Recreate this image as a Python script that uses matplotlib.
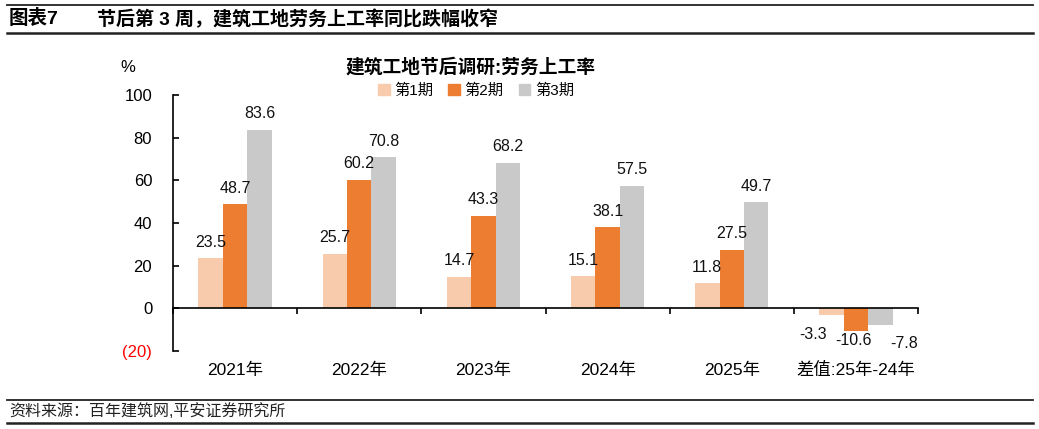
import matplotlib
matplotlib.use("Agg")
import matplotlib.pyplot as plt
import numpy as np
from matplotlib.lines import Line2D
from matplotlib.patches import Rectangle

plt.rcParams['font.family'] = ['Liberation Sans', 'Noto Sans CJK SC', 'DejaVu Sans']

# ===== Данные =====
categories = ["2021年", "2022年", "2023年", "2024年", "2025年", "差值:25年-24年"]
period1 = [23.5, 25.7, 14.7, 15.1, 11.8, -3.3]
period2 = [48.7, 60.2, 43.3, 38.1, 27.5, -10.6]
period3 = [83.6, 70.8, 68.2, 57.5, 49.7, -7.8]
series_names = ["第1期", "第2期", "第3期"]
yticks = [-20, 0, 20, 40, 60, 80, 100]
ytick_labels = ["(20)", "0", "20", "40", "60", "80", "100"]

colors = ["#F8CBAD", "#ED7D31", "#C9C9C9"]

fig = plt.figure(figsize=(10.39, 4.29), dpi=100)
ax = fig.add_axes([173 / 1039, 1 - 351 / 429, 745 / 1039, 256 / 429])

x = np.arange(len(categories))
w = 0.197
series = [period1, period2, period3]
for k, vals in enumerate(series):
    pos = x + (k - 1) * w
    ax.bar(pos, vals, width=w, color=colors[k], zorder=2)

# подписи значений
neg_offsets = [(-18, -19), (-2, -10), (24, -19)]
for k, vals in enumerate(series):
    pos = x + (k - 1) * w
    for i, v in enumerate(vals):
        if v >= 0:
            ax.annotate(f"{v:.1f}", (pos[i], v), xytext=(0, 16), textcoords="offset pixels",
                        ha="center", va="center", fontsize=11.5, color="#111111")
        else:
            dx, dy = neg_offsets[k]
            ax.annotate(f"{v:.1f}", (pos[i], v), xytext=(dx, dy), textcoords="offset pixels",
                        ha="center", va="center", fontsize=11.5, color="#111111")

ax.set_xlim(-0.5, len(categories) - 0.5)
ax.set_ylim(-20, 100)

# оси
for s in ["top", "right"]:
    ax.spines[s].set_visible(False)
ax.spines["bottom"].set_position(("data", 0))
ax.spines["left"].set_linewidth(1.2)
ax.spines["bottom"].set_linewidth(1.2)

ax.set_yticks(yticks)
ax.set_yticklabels(ytick_labels, fontsize=12)
ax.get_yticklabels()[0].set_color("red")
ax.tick_params(axis="y", direction="in", length=4, width=1.2, pad=15)

ax.set_xticks(np.arange(len(categories) + 1) - 0.5)
ax.set_xticklabels([])
ax.tick_params(axis="x", direction="out", length=4, width=1.2)
for i, c in enumerate(categories):
    ax.text(i, -29, c, ha="center", va="center", fontsize=12.5, clip_on=False)

ax.text(128 / 1039, 1 - 67 / 429, "%", transform=fig.transFigure, ha="center", va="center", fontsize=12)

# заголовок графика
fig.text(471 / 1039, 1 - 67 / 429, "建筑工地节后调研:劳务上工率", ha="center", va="center",
         fontsize=13.5, fontweight="bold")

# легенда
handles = [Rectangle((0, 0), 1, 1, color=c) for c in colors]
fig.legend(handles, series_names, loc="center", bbox_to_anchor=(476 / 1039, 1 - 91 / 429),
           ncol=3, frameon=False, fontsize=11, handlelength=0.75, handleheight=0.75,
           handletextpad=0.3, columnspacing=1.0)

# шапка и подвал
for y, lw in [(5, 1.3), (33, 1.8), (400, 1.3), (423, 1.8)]:
    fig.add_artist(Line2D([7 / 1039, 1033 / 1039], [1 - y / 429, 1 - y / 429],
                          transform=fig.transFigure, color="#222222", lw=lw))
fig.text(9 / 1039, 1 - 19 / 429, "图表7", ha="left", va="center", fontsize=14, fontweight="bold")
fig.text(97 / 1039, 1 - 19 / 429, "节后第 3 周，建筑工地劳务上工率同比跌幅收窄", ha="left", va="center",
         fontsize=13.7, fontweight="bold")
fig.text(9 / 1039, 1 - 411 / 429, "资料来源：百年建筑网,平安证券研究所", ha="left", va="center",
         fontsize=11.5, color="#222222")

fig.savefig("out.png", dpi=100)
